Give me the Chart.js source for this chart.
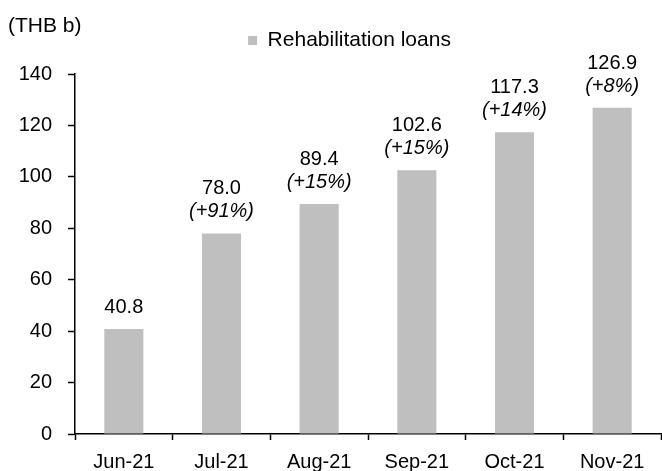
<!DOCTYPE html>
<html>
<head>
<meta charset="utf-8">
<script src="https://cdn.jsdelivr.net/npm/chart.js@4"></script>
<style>
  html, body { margin: 0; padding: 0; background: #fff; }
  #wrap { width: 662px; height: 471px; }
</style>
</head>
<body>
<div id="wrap"><canvas id="grafico"></canvas></div>
<script>
// dados do gráfico
var categorias = ['Jun-21', 'Jul-21', 'Aug-21', 'Sep-21', 'Oct-21', 'Nov-21'];
var emprestimos = [40.8, 78.0, 89.4, 102.6, 117.3, 126.9]; // THB b
var crescimento = ['', '+91%', '+15%', '+15%', '+14%', '+8%'];
var ticksY = [0, 20, 40, 60, 80, 100, 120, 140];

var fonte = "'Liberation Sans', Arial, sans-serif";

// rótulos acima das barras + unidade
var rotulos = {
    id: 'rotulos',
    beforeInit: function(chart) {
        var fit = chart.legend.fit;
        chart.legend.fit = function() {
            fit.call(this);
            this.height = 74 - 20; // topo da área do gráfico em 74
        };
    },
    afterLayout: function(chart) {
        // legenda um pouco deslocada para a direita, como no original
        chart.legend.left = 38;
    },
    afterDatasetsDraw: function(chart) {
        var ctx = chart.ctx;
        var barras = chart.getDatasetMeta(0).data;
        ctx.save();
        ctx.fillStyle = '#000';
        ctx.textAlign = 'center';
        ctx.textBaseline = 'alphabetic';
        barras.forEach(function(b, i) {
            var y = b.y - 16;
            if (crescimento[i]) {
                ctx.font = 'italic 20px ' + fonte;
                ctx.fillText('(' + crescimento[i] + ')', b.x, y);
                y -= 23;
            }
            ctx.font = '20px ' + fonte;
            ctx.fillText(emprestimos[i].toFixed(1), b.x, y);
        });
        ctx.font = '21px ' + fonte;
        ctx.textAlign = 'left';
        ctx.fillText('(THB b)', 8, 32);
        ctx.restore();
    }
};

var ctx = document.getElementById('grafico').getContext('2d');
var grafico = new Chart(ctx, {
    type: 'bar',
    data: {
        labels: categorias,
        datasets: [{
            label: 'Rehabilitation loans',
            data: emprestimos,
            backgroundColor: '#BFBFBF',
            borderWidth: 0,
            categoryPercentage: 1,
            barPercentage: 0.4
        }]
    },
    options: {
        responsive: true,
        maintainAspectRatio: false,
        animation: false,
        layout: { padding: { top: 20, left: 0, right: 1, bottom: 0 } },
        plugins: {
            tooltip: { enabled: false },
            legend: {
                display: true,
                labels: {
                    boxWidth: 9,
                    boxHeight: 9,
                    padding: 10,
                    color: '#000',
                    font: { family: fonte, size: 21 }
                }
            }
        },
        scales: {
            x: {
                offset: true,
                afterFit: function(s) { s.height = 37; },
                border: { display: true, color: '#000', width: 1.5 },
                grid: {
                    offset: true,
                    drawOnChartArea: false,
                    drawTicks: true,
                    tickLength: 6,
                    tickColor: '#000',
                    tickWidth: 1.5
                },
                ticks: {
                    color: '#000',
                    padding: 10,
                    maxRotation: 0,
                    font: { family: fonte, size: 20 }
                }
            },
            y: {
                min: 0,
                max: 140,
                afterFit: function(s) { s.width = 75; },
                afterBuildTicks: function(s) {
                    s.ticks = ticksY.map(function(v) { return { value: v }; });
                },
                border: { display: true, color: '#000', width: 1.5 },
                grid: {
                    drawOnChartArea: false,
                    drawTicks: true,
                    tickLength: 7,
                    tickColor: '#000',
                    tickWidth: 1.5
                },
                ticks: {
                    color: '#000',
                    padding: 16,
                    font: { family: fonte, size: 20 }
                }
            }
        }
    },
    plugins: [rotulos]
});
</script>
</body>
</html>
